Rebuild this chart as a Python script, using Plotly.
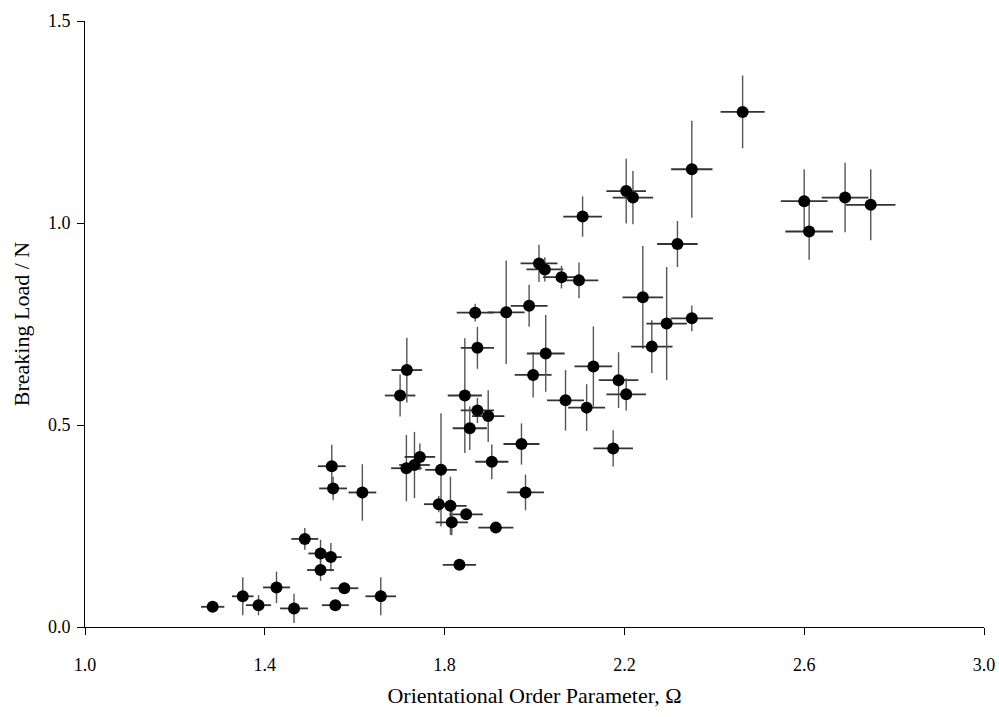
import plotly.graph_objects as go

omega = [1.284, 1.351, 1.386, 1.426, 1.465, 1.489, 1.524, 1.547, 1.524, 1.577,
         1.557, 1.658, 1.549, 1.552, 1.617, 1.701, 1.716, 1.715, 1.733, 1.745,
         1.792, 1.787, 1.813, 1.848, 1.816, 1.914, 1.833, 1.980, 1.845, 1.873,
         1.868, 1.937, 1.988, 1.873, 1.897, 1.856, 1.905, 1.971, 1.997, 2.025,
         2.010, 2.023, 2.060, 2.099, 2.107, 2.204, 2.219, 2.069, 2.116, 2.131,
         2.187, 2.204, 2.175, 2.241, 2.261, 2.294, 2.350, 2.318, 2.350, 2.463,
         2.600, 2.611, 2.691, 2.748]
load = [0.050, 0.076, 0.054, 0.098, 0.046, 0.218, 0.182, 0.173, 0.141, 0.096,
        0.054, 0.076, 0.398, 0.343, 0.333, 0.573, 0.636, 0.393, 0.401, 0.421,
        0.389, 0.304, 0.300, 0.279, 0.259, 0.246, 0.154, 0.333, 0.573, 0.691,
        0.778, 0.779, 0.795, 0.536, 0.522, 0.492, 0.409, 0.453, 0.624, 0.677,
        0.900, 0.885, 0.866, 0.858, 1.016, 1.079, 1.063, 0.561, 0.543, 0.645,
        0.611, 0.576, 0.442, 0.816, 0.694, 0.751, 0.764, 0.948, 1.133, 1.275,
        1.054, 0.979, 1.063, 1.045]
omega_err = [0.026, 0.024, 0.028, 0.030, 0.031, 0.030, 0.027, 0.024, 0.030, 0.031,
             0.030, 0.034, 0.031, 0.031, 0.031, 0.034, 0.034, 0.034, 0.034, 0.034,
             0.035, 0.033, 0.036, 0.037, 0.036, 0.039, 0.037, 0.041, 0.038, 0.037,
             0.041, 0.041, 0.041, 0.037, 0.036, 0.038, 0.037, 0.040, 0.041, 0.042,
             0.041, 0.041, 0.041, 0.043, 0.043, 0.044, 0.045, 0.041, 0.041, 0.042,
             0.044, 0.044, 0.044, 0.045, 0.046, 0.045, 0.047, 0.045, 0.046, 0.049,
             0.052, 0.053, 0.052, 0.055]
load_err = [0.008, 0.047, 0.025, 0.039, 0.036, 0.027, 0.034, 0.035, 0.027, 0.010,
            0.010, 0.047, 0.053, 0.029, 0.070, 0.052, 0.080, 0.082, 0.082, 0.033,
            0.140, 0.020, 0.072, 0.010, 0.032, 0.010, 0.010, 0.044, 0.142, 0.052,
            0.022, 0.128, 0.052, 0.031, 0.064, 0.054, 0.043, 0.051, 0.056, 0.095,
            0.046, 0.030, 0.028, 0.044, 0.050, 0.080, 0.066, 0.075, 0.058, 0.099,
            0.069, 0.040, 0.045, 0.127, 0.065, 0.140, 0.032, 0.057, 0.120, 0.090,
            0.079, 0.070, 0.086, 0.088]

x_ticks = [1.0, 1.4, 1.8, 2.2, 2.6, 3.0]
y_ticks = [0.0, 0.5, 1.0, 1.5]

font = "Liberation Serif, Times New Roman, serif"

fig = go.Figure()
fig.add_trace(go.Scatter(
    x=omega, y=load, mode="markers",
    marker=dict(color="black", size=12),
    error_x=dict(type="data", array=omega_err, visible=True, color="#333333",
                 thickness=1.8, width=0),
    error_y=dict(type="data", array=load_err, visible=True, color="#555555",
                 thickness=1.4, width=0),
    showlegend=False,
))

fig.update_layout(
    width=999, height=717,
    margin=dict(l=85, r=15, t=21, b=90),
    plot_bgcolor="white", paper_bgcolor="white",
    font=dict(family=font, color="black", size=18),
    xaxis=dict(
        range=[1.0, 3.0], tickvals=x_ticks, ticktext=[f"{v:.1f}" for v in x_ticks],
        showgrid=False, zeroline=False, showline=True, linecolor="black", linewidth=1,
        ticks="outside", ticklen=7, tickcolor="black", automargin=False,
        tickfont=dict(size=18), ticklabelstandoff=14,
        title=dict(text="Orientational Order Parameter, Ω", font=dict(size=22), standoff=14),
    ),
    yaxis=dict(
        range=[0.0, 1.5], tickvals=y_ticks, ticktext=[f"{v:.1f}" for v in y_ticks],
        showgrid=False, zeroline=False, showline=True, linecolor="black", linewidth=1,
        ticks="outside", ticklen=7, tickcolor="black", automargin=False,
        tickfont=dict(size=18), ticklabelstandoff=3,
        title=dict(text="Breaking Load / N", font=dict(size=22), standoff=12),
    ),
)

fig.write_html("out.html", config={"displayModeBar": False},
               post_script="document.body.style.margin='0px';")
